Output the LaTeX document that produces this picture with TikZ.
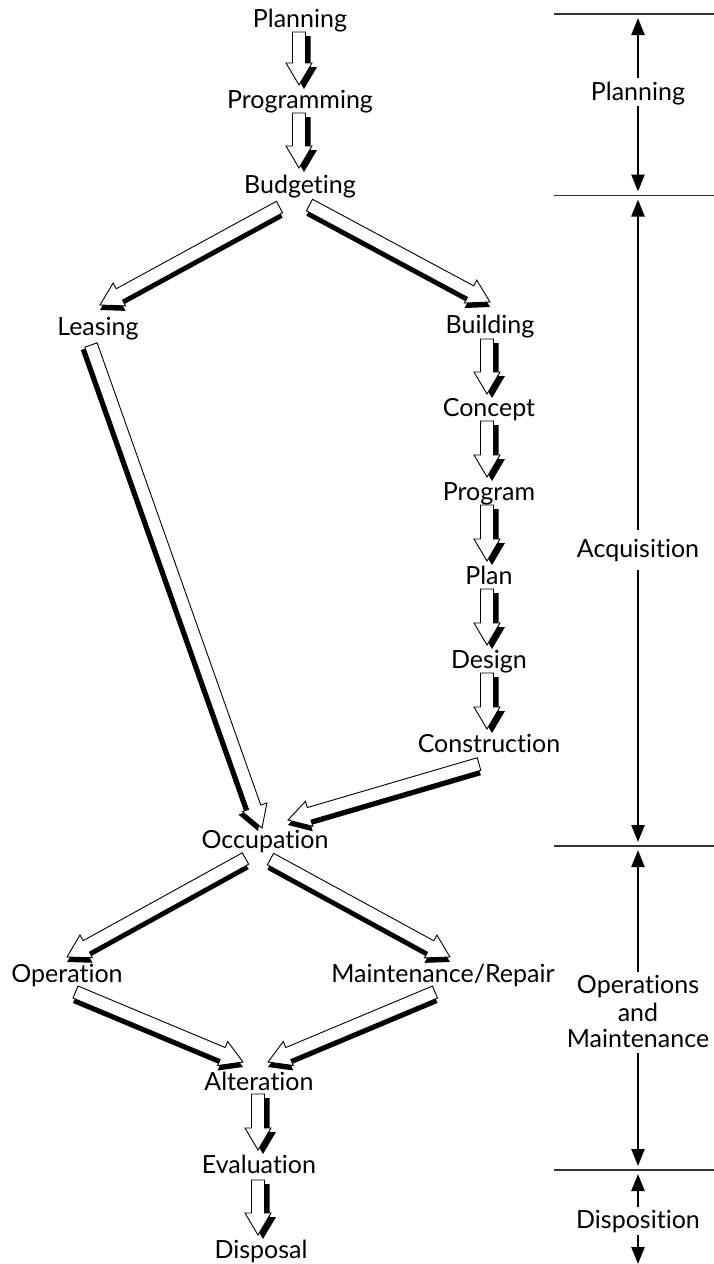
\documentclass[tikz,border=0pt]{standalone}
\usepackage{fontspec}
\setmainfont{Lato}[Ligatures={NoCommon}]
\usetikzlibrary{calc,arrows.meta}
\tikzset{
  lbl/.style={anchor=base, inner sep=0pt, font=\fontsize{25}{28}\selectfont},
  hollow/.style={draw=black, fill=white, line width=0.9pt, line join=miter},
  shade/.style={fill=black},
  rulebar/.style={line width=1.2pt, draw=black!80},
  span/.style={line width=2.4pt, -{Triangle[length=17pt,width=13pt]}},
}
\newcommand\arrowoutline[3]{%
  \coordinate (bH) at ($(#2)!22pt!(#1)$);
  \path[#3] ($(#1)!6.5pt!90:(#2)$) -- ($(bH)!6.5pt!90:(#2)$) -- ($(bH)!13pt!90:(#2)$) -- (#2) -- ($(bH)!13pt!-90:(#2)$) -- ($(bH)!6.5pt!-90:(#2)$) -- ($(#1)!6.5pt!-90:(#2)$) -- cycle;
}
\newcommand\blockarrow[4]{%
  \coordinate (bA) at (#1);
  \coordinate (bB) at (#2);
  \coordinate (bAs) at ($(bA)+(#3,#4)$);
  \coordinate (bBs) at ($(bB)+(#3,#4)$);
  \arrowoutline{bAs}{bBs}{shade}
  \arrowoutline{bA}{bB}{hollow}
}
\begin{document}
\begin{tikzpicture}[x=1pt,y=-1pt]
\useasboundingbox (0,0) rectangle (714,1264);
% ---- left flow ----
\node[lbl] (planning) at (300,27) {Planning};
\node[lbl] (programming) at (300,108) {Programming};
\node[lbl] (budgeting) at (300,193) {Budgeting};
\node[lbl] (leasing) at (98,335) {Leasing};
\node[lbl] (building) at (490,333) {Building};
\node[lbl] (concept) at (489,416) {Concept};
\node[lbl] (program) at (489,500) {Program};
\node[lbl] (plan) at (489,584) {Plan};
\node[lbl] (design) at (489,668) {Design};
\node[lbl] (construction) at (489,752) {Construction};
\node[lbl] (occupation) at (265,848) {Occupation};
\node[lbl] (operation) at (67,982) {Operation};
\node[lbl] (maint) at (443,982) {Maintenance/Repair};
\node[lbl] (alteration) at (259,1090) {Alteration};
\node[lbl] (evaluation) at (259,1173) {Evaluation};
\node[lbl] (disposal) at (261,1258) {Disposal};
% vertical block arrows
\blockarrow{$(planning.base)+(-1,5)$}{$(programming.base)+(-1,-23)$}{5}{4}
\blockarrow{$(programming.base)+(-1,5)$}{$(budgeting.base)+(-1,-25)$}{5}{4}
\blockarrow{$(building.base)+(-3,6)$}{$(concept.base)+(-2,-22)$}{5}{4}
\blockarrow{$(concept.base)+(-2,5)$}{$(program.base)+(-2,-23)$}{5}{4}
\blockarrow{$(program.base)+(-2,5)$}{$(plan.base)+(-2,-23)$}{5}{4}
\blockarrow{$(plan.base)+(-2,5)$}{$(design.base)+(-2,-23)$}{5}{4}
\blockarrow{$(design.base)+(-2,5)$}{$(construction.base)+(-2,-23)$}{5}{4}
\blockarrow{$(alteration.base)+(-1,4)$}{$(evaluation.base)+(-1,-23)$}{5}{4}
\blockarrow{$(evaluation.base)+(-1,7)$}{$(disposal.base)+(-3,-23)$}{5}{4}
% diagonal block arrows
\blockarrow{$(budgeting.base)+(-20.5,14)$}{$(leasing.base)+(2,-30)$}{0}{5}
\blockarrow{$(budgeting.base)+(9.5,12)$}{$(building.base)+(0,-31)$}{0}{5}
\blockarrow{$(leasing.base)+(-7,10)$}{$(occupation.base)+(-3,-20)$}{-4}{3}
\blockarrow{$(construction.base)+(-10,12)$}{$(occupation.base)+(23,-28)$}{0}{5}
\blockarrow{$(occupation.base)+(-19.5,10.5)$}{$(operation.base)+(0,-25)$}{0}{5}
\blockarrow{$(occupation.base)+(5.5,11)$}{$(maint.base)+(7,-25)$}{0}{5}
\blockarrow{$(operation.base)+(8.5,10)$}{$(alteration.base)+(-16,-28)$}{0}{5}
\blockarrow{$(maint.base)+(-8,10)$}{$(alteration.base)+(9,-28)$}{0}{5}
% ---- right phase scale ----
\coordinate (l1a) at (554,14);   \coordinate (l1b) at (714,14);
\coordinate (l2a) at (554,195.5); \coordinate (l2b) at (714,195.5);
\coordinate (l3a) at (554,846);  \coordinate (l3b) at (714,846);
\coordinate (l4a) at (554,1170); \coordinate (l4b) at (714,1170);
\draw[rulebar] (l1a) -- (l1b);
\draw[rulebar] (l2a) -- (l2b);
\draw[rulebar] (l3a) -- (l3b);
\draw[rulebar] (l4a) -- (l4b);
\coordinate (m1) at (638,14);
\coordinate (m2) at (638,195.5);
\coordinate (m3) at (638,846);
\coordinate (m4) at (638,1170);
\coordinate (m5) at (638,1264);
\node[lbl] (phPlan) at (638,100) {Planning};
\node[lbl] (phAcq) at (638,557) {Acquisition};
\node[lbl] (phOM1) at (638,993) {Operations};
\node[lbl] (phOM2) at (638,1021) {and};
\node[lbl] (phOM3) at (638,1047) {Maintenance};
\node[lbl] (phDisp) at (638,1228) {Disposition};
\draw[span, shorten >=4pt] ($(phPlan.base)+(0,-22)$) -- (m1);
\draw[span, shorten >=4pt] ($(phPlan.base)+(0,6)$) -- (m2);
\draw[span, shorten >=4pt] ($(phAcq.base)+(0,-27)$) -- (m2);
\draw[span, shorten >=4pt] ($(phAcq.base)+(0,13)$) -- (m3);
\draw[span, shorten >=4pt] ($(phOM1.base)+(0,-21)$) -- (m3);
\draw[span, shorten >=4pt] ($(phOM3.base)+(0,6)$) -- (m4);
\draw[span, shorten >=4pt] ($(phDisp.base)+(0,-21)$) -- (m4);
\draw[span] ($(phDisp.base)+(0,7)$) -- (m5);
\end{tikzpicture}
\end{document}
